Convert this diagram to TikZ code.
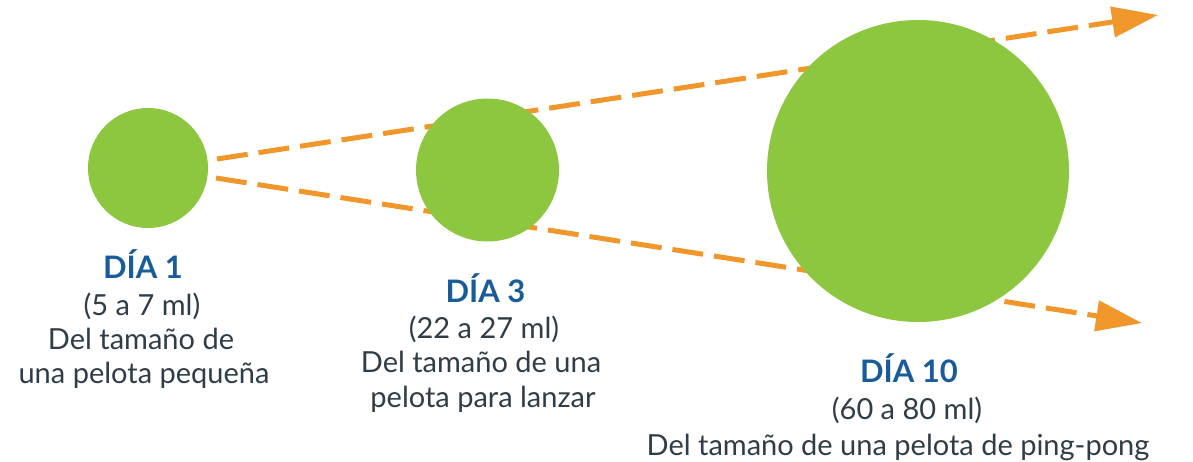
\documentclass[tikz,border=0pt]{standalone}
\usepackage{fontspec}
\setmainfont{Lato}
\usetikzlibrary{arrows.meta}
\definecolor{leafgreen}{HTML}{8DC63F}
\definecolor{arroworange}{HTML}{F0962A}
\definecolor{titleblue}{HTML}{1A5C9A}
\definecolor{bodytext}{HTML}{2E3D47}
\begin{document}
\begin{tikzpicture}[x=1pt,y=-1pt,
  ball/.style={circle,fill=leafgreen,inner sep=0pt},
  growth/.style={draw=arroworange,line width=5pt,dash pattern=on 31pt off 11pt,
     -{Triangle[length=46pt,width=30pt]}},
  daytitle/.style={anchor=base,font=\fontsize{31pt}{36pt}\selectfont\bfseries,text=titleblue,inner sep=0pt},
  bodyline/.style={anchor=base,font=\fontsize{29pt}{34pt}\selectfont,text=bodytext,inner sep=0pt}]
\useasboundingbox (0,0) rectangle (1193,461);
\coordinate (s1) at (217,159);
\coordinate (e1) at (1158,15);
\coordinate (s2) at (216,178);
\coordinate (e2) at (1142,323);
\draw[growth] (s1) -- (e1);
\draw[growth] (s2) -- (e2);
\node[ball,minimum size=120pt] (d1) at (148,168) {};
\node[ball,minimum size=143pt] (d3) at (487.5,170) {};
\node[ball,minimum size=302pt] (d10) at (918,171) {};
\node[daytitle] (t1) at (143,278) {DÍA 1};
\node[bodyline] (a1) at (142,315) {(5 a 7 ml)};
\node[bodyline] (b1) at (141,349) {Del tamaño de};
\node[bodyline] (c1) at (144,383) {una pelota pequeña};
\node[daytitle] (t3) at (485.5,302) {DÍA 3};
\node[bodyline] (a3) at (484,338) {(22 a 27 ml)};
\node[bodyline] (b3) at (481,372) {Del tamaño de una};
\node[bodyline] (c3) at (483,407) {pelota para lanzar};
\node[daytitle] (t10) at (909,382) {DÍA 10};
\node[bodyline] (a10) at (907,419) {(60 a 80 ml)};
\node[bodyline] (b10) at (898,455) {Del tamaño de una pelota de ping-pong};
\end{tikzpicture}
\end{document}
